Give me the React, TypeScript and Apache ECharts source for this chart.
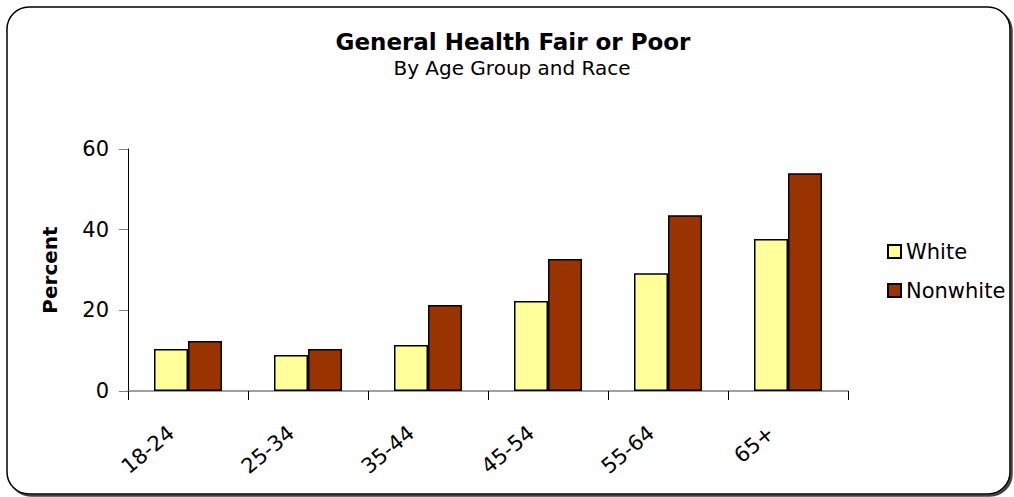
import React, { useEffect, useRef } from "react";
import * as echarts from "echarts";

const categories = ["18-24", "25-34", "35-44", "45-54", "55-64", "65+"];
const whiteValues = [10.4, 8.9, 11.4, 22.3, 29.2, 37.7];
const nonwhiteValues = [12.4, 10.4, 21.3, 32.7, 43.6, 54.0];
const seriesNames = ["White", "Nonwhite"];
const titleText = "General Health Fair or Poor";
const subtitleText = "By Age Group and Race";
const yAxisName = "Percent";

const FONT = "DejaVu Sans, Liberation Sans, Arial, sans-serif";

export default function App() {
  const ref = useRef<HTMLDivElement>(null);
  useEffect(() => {
    if (!ref.current) return;
    const chart = echarts.init(ref.current, undefined, { renderer: "svg" });
    chart.setOption({
      animation: false,
      backgroundColor: "#ffffff",
      graphic: [
        {
          type: "rect",
          z: -10,
          silent: true,
          shape: { x: 7, y: 7, width: 1003, height: 487, r: 22 },
          style: {
            fill: "#ffffff",
            stroke: "#000000",
            lineWidth: 1.5,
            shadowBlur: 0,
            shadowOffsetX: 2,
            shadowOffsetY: 2,
            shadowColor: "#444444",
          },
        },
        {
          type: "text",
          x: 513,
          y: 42,
          style: {
            text: titleText,
            font: "bold 23px " + FONT,
            fill: "#000",
            textAlign: "center",
            textVerticalAlign: "middle",
          },
        },
        {
          type: "text",
          x: 512,
          y: 68,
          style: {
            text: subtitleText,
            font: "20px " + FONT,
            fill: "#000",
            textAlign: "center",
            textVerticalAlign: "middle",
          },
        },
      ],
      legend: {
        orient: "vertical",
        left: 882,
        top: 236,
        itemWidth: 13,
        itemHeight: 13,
        itemGap: 18,
        itemTextGap: 9,
        icon: "rect",
        textStyle: { fontFamily: FONT, fontSize: 21, color: "#000" },
        data: seriesNames,
      },
      grid: { left: 128, right: 166, top: 149, bottom: 106, containLabel: false },
      xAxis: {
        type: "category",
        data: categories,
        axisLine: { lineStyle: { color: "#808080", width: 1.5 } },
        axisTick: { show: true, length: 9, alignWithLabel: false, lineStyle: { color: "#000", width: 1 } },
        axisLabel: {
          interval: 0,
          rotate: 40,
          margin: 25,
          padding: [0, 22, 0, 0],
          fontFamily: FONT,
          fontSize: 21,
          color: "#000",
        },
      },
      yAxis: {
        type: "value",
        min: 0,
        max: 60,
        interval: 20,
        name: yAxisName,
        nameLocation: "middle",
        nameRotate: 90,
        nameGap: 68,
        nameTextStyle: { fontFamily: FONT, fontSize: 20, fontWeight: "bold", color: "#000" },
        axisLine: { show: true, lineStyle: { color: "#000", width: 1 } },
        axisTick: { show: true, length: 9, lineStyle: { color: "#808080", width: 1 } },
        axisLabel: { margin: 19, fontFamily: FONT, fontSize: 21, color: "#000" },
        splitLine: { show: false },
      },
      series: [
        {
          name: seriesNames[0],
          type: "bar",
          data: whiteValues,
          barWidth: 34,
          barGap: "0%",
          itemStyle: { color: "#FFFF99", borderColor: "#000", borderWidth: 1.5 },
        },
        {
          name: seriesNames[1],
          type: "bar",
          data: nonwhiteValues,
          barWidth: 34,
          barGap: "0%",
          itemStyle: { color: "#993300", borderColor: "#000", borderWidth: 1.5 },
        },
      ],
    });
    return () => chart.dispose();
  }, []);
  return (
    <div
      ref={ref}
      style={{ position: "absolute", left: 0, top: 0, width: 1014, height: 497 }}
    />
  );
}
